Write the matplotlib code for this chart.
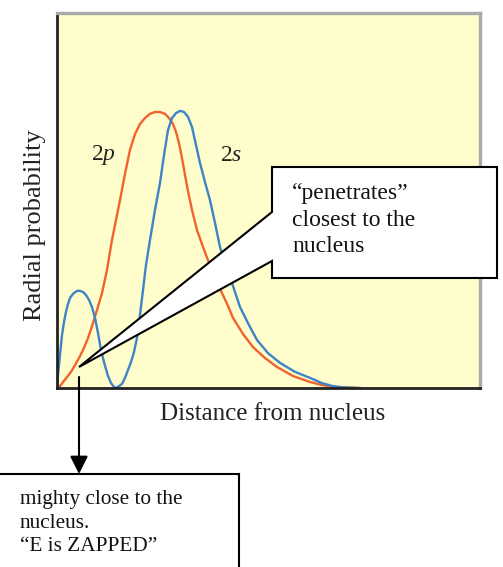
"""
2s / 2p radial probability 곡선 + 설명 말풍선
"""
import numpy as np
import matplotlib
matplotlib.use('Agg')
import matplotlib.pyplot as plt
from matplotlib.patches import Polygon, FancyArrowPatch
from matplotlib.lines import Line2D

plt.rcParams['font.family'] = ['Liberation Serif', 'DejaVu Serif']
plt.rcParams['mathtext.fontset'] = 'custom'
plt.rcParams['mathtext.rm'] = 'Liberation Serif'
plt.rcParams['mathtext.it'] = 'Liberation Serif:italic'

# ─────────────── 데이터 (그림에서 읽은 값, 임의 단위) ───────────────
r_2p = [0.0, 0.3, 0.7, 1.0, 1.4, 1.8, 2.2, 2.6, 3.1, 3.6, 4.0, 4.5, 5.0, 5.5, 5.9, 6.3,
        6.8, 7.3, 7.8, 8.3, 8.8, 9.3, 9.8, 10.3, 10.8, 11.2, 11.6, 11.9, 12.2, 12.5,
        12.8, 13.1, 13.5, 14.0, 14.6, 15.1, 15.6, 16.1, 16.5, 17.1, 17.6, 18.6, 19.6,
        20.8, 22.0, 23.6, 25.3, 26.5, 27.8, 30.3]
p_2p = [0.0, 0.5, 1.9, 2.9, 4.3, 6.1, 8.0, 10.1, 13.3, 17.3, 20.8, 25.3, 31.5, 39.5, 44.8, 50.1,
        57.1, 63.5, 67.7, 70.4, 72.0, 73.1, 73.6, 73.6, 73.1, 72.0, 70.4, 68.3, 65.3, 61.3,
        56.8, 52.5, 47.5, 42.1, 37.6, 34.1, 30.7, 27.7, 25.3, 21.9, 18.7, 14.4, 10.9,
        8.0, 5.6, 3.2, 1.6, 0.8, 0.3, 0.0]

r_2s = [0.0, 0.1, 0.2, 0.4, 0.5, 0.7, 0.9, 1.1, 1.3, 1.6, 2.0, 2.3, 2.6, 2.9, 3.2, 3.5,
        3.8, 4.1, 4.4, 4.7, 5.1, 5.4, 5.8, 6.1, 6.5, 6.8, 7.1, 7.4, 7.7, 8.0, 8.3, 8.6,
        8.9, 9.3, 9.8, 10.3, 10.7, 11.1, 11.5, 11.9, 12.3, 12.7, 13.1, 13.5, 13.9, 14.3,
        14.8, 15.3, 15.8, 16.3, 16.8, 17.3, 17.8, 18.3, 19.1, 20.0, 21.1, 22.3, 23.8,
        25.3, 26.5, 27.6, 28.8, 30.1]
p_2s = [0.0, 3.5, 6.1, 11.5, 14.1, 17.6, 20.3, 22.4, 24.0, 25.1, 25.9, 25.9, 25.6, 24.8, 23.5, 21.6,
        18.7, 14.7, 10.1, 6.9, 3.2, 1.3, 0.0, 0.3, 1.1, 2.7, 4.8, 6.9, 9.6, 13.3, 19.5, 26.1,
        32.8, 39.5, 47.5, 54.7, 62.1, 68.8, 72.0, 73.3, 73.9, 73.6, 72.3, 69.6, 64.8, 60.0,
        54.9, 50.1, 44.0, 37.6, 33.3, 29.6, 25.6, 21.6, 17.3, 12.8, 9.3, 6.7, 4.3,
        2.7, 1.3, 0.5, 0.1, 0.0]

X_LABEL = 'Distance from nucleus'
Y_LABEL = 'Radial probability'
CALLOUT_TOP = '\u201cpenetrates\u201d\nclosest to the\nnucleus'
CALLOUT_BOTTOM = 'mighty close to the\nnucleus.\n\u201cE is ZAPPED\u201d'

# ─────────────── 스타일 ───────────────
W, H = 503, 567
BG = '#fffdcc'
C_2P = '#f2622e'
C_2S = '#3d84c6'


def px(x, y):
    """픽셀(좌상단 기준) → figure 좌표"""
    return (x / W, 1 - y / H)


fig = plt.figure(figsize=(W / 100, H / 100), dpi=100)
fig.patch.set_facecolor('white')

ax = fig.add_axes([57 / W, 1 - 388 / H, 423 / W, 375 / H])
ax.set_facecolor(BG)
ax.plot(r_2p, p_2p, color=C_2P, lw=1.7, solid_joinstyle='round')
ax.plot(r_2s, p_2s, color=C_2S, lw=1.7, solid_joinstyle='round')
ax.set_xlim(0, 42.3)
ax.set_ylim(0, 100)

# 축 테두리
ax.spines['left'].set_color('#222222')
ax.spines['left'].set_linewidth(2.0)
ax.spines['bottom'].set_color('#222222')
ax.spines['bottom'].set_linewidth(2.0)
for s in ('top', 'right'):
    ax.spines[s].set_color('#aaaaaa')
    ax.spines[s].set_linewidth(2.4)

# 모서리 눈금 (위-왼쪽, 아래-오른쪽)
ax.set_xticks([42.3])
ax.set_yticks([100])
ax.set_xticklabels([])
ax.set_yticklabels([])
ax.tick_params(direction='in', length=7, width=1.8, color='#222222')

# 곡선 라벨
ax.text(4.6, 62.1, '2$p$', fontsize=17, ha='center', va='center', color='#222222')
ax.text(17.4, 62.1, '2$s$', fontsize=17, ha='center', va='center', color='#222222')

# 축 라벨
fig.text(*px(35, 225), Y_LABEL, rotation=90, fontsize=19, ha='center', va='center',
         color='#222222')
fig.text(*px(273, 414), X_LABEL, fontsize=18, ha='center', va='center', color='#222222')

# ─────────────── 위쪽 말풍선 (쐐기 + 상자) ───────────────
bubble = [px(79, 367), px(272, 261), px(272, 278), px(497, 278),
          px(497, 167), px(272, 167), px(272, 212)]
fig.add_artist(Polygon(bubble, closed=True, transform=fig.transFigure,
                       facecolor='white', edgecolor='black', lw=1.5, zorder=5))
fig.text(*px(292, 220), CALLOUT_TOP, fontsize=17, ha='left', va='center',
         linespacing=1.32, color='#111111', zorder=6)

# ─────────────── 아래 화살표 + 상자 ───────────────
fig.add_artist(FancyArrowPatch(px(79, 377), px(79, 474), transform=fig.transFigure,
                               arrowstyle='-|>', mutation_scale=27, color='black',
                               lw=1.5, shrinkA=0, shrinkB=0, zorder=5))
fig.add_artist(Line2D([0, 239 / W], [1 - 474 / H] * 2, transform=fig.transFigure,
                      color='black', lw=1.5))
fig.add_artist(Line2D([239 / W] * 2, [1 - 474 / H, 0], transform=fig.transFigure,
                      color='black', lw=1.5))
fig.text(*px(20, 523), CALLOUT_BOTTOM, fontsize=15.3, ha='left', va='center',
         linespacing=1.3, color='#111111')

fig.savefig('out.png', dpi=100, facecolor=fig.get_facecolor())
plt.close(fig)
